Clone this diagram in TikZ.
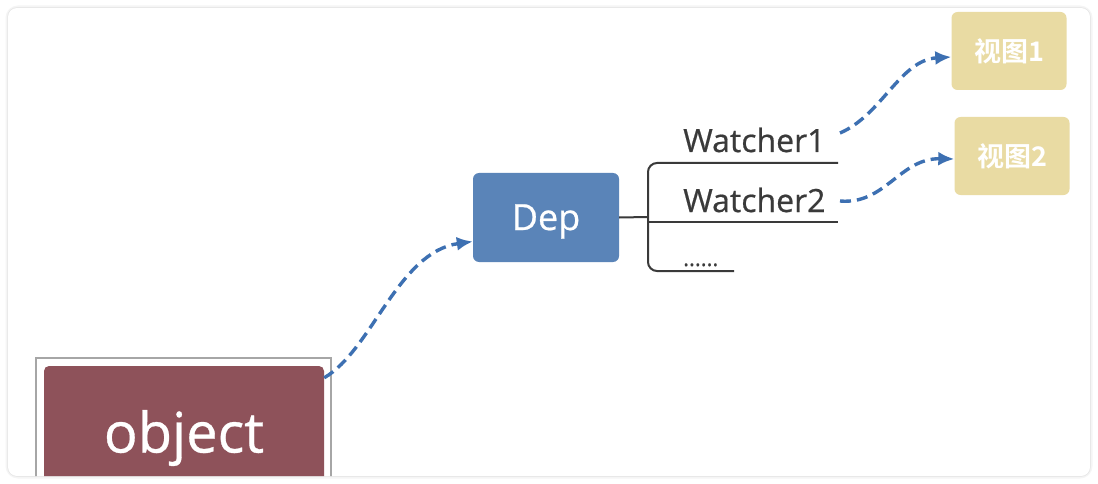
\documentclass[tikz,border=0pt]{standalone}
\usepackage{fontspec}
\setmainfont{Open Sans}
\newfontfamily\medfont{Open Sans}[FakeBold=0.6]
\newfontfamily\cjk{Noto Sans CJK SC}[BoldFont={* Bold}]
\usetikzlibrary{arrows.meta}
\definecolor{objred}{HTML}{8E525A}
\definecolor{depblue}{HTML}{5A84B8}
\definecolor{viewtan}{HTML}{E9DBA3}
\definecolor{flowblue}{HTML}{3D70B2}
\definecolor{inktext}{HTML}{3A3A3A}
\tikzset{
  box/.style={rounded corners=6pt, inner sep=0pt, text=white},
  viewbox/.style={box, fill=viewtan, minimum width=115pt, minimum height=78pt, font=\cjk\bfseries\fontsize{27}{27}\selectfont},
  flow/.style={draw=flowblue, line width=3.4pt, dash pattern=on 11pt off 6pt, -{Latex[length=16pt,width=14pt]}},
  bracket/.style={draw=inktext, line width=2pt},
  wlabel/.style={anchor=base west, inner sep=0pt, text=inktext, font=\medfont\fontsize{32}{32}\selectfont},
}
\begin{document}
\begin{tikzpicture}[x=1pt,y=-1pt]
\useasboundingbox (0,0) rectangle (1098,484);
\fill[white] (0,0) rectangle (1098,484);
% card shadow and card
\draw[black!4, line width=5pt, rounded corners=10pt] (8,8) rectangle (1090,476);
\draw[black!10, line width=1.5pt, rounded corners=9pt] (8,8) rectangle (1090,476);
\fill[white, rounded corners=9pt] (8,8) rectangle (1090,476);
% object box, clipped by the card
\begin{scope}
  \clip[rounded corners=9pt] (8,8) rectangle (1090,476);
  \draw[black!35, line width=2.2pt, fill=white] (36,358) rectangle (331,520);
  \node[box, fill=objred, rounded corners=5pt, minimum width=280pt, minimum height=144pt,
        font=\medfont\fontsize{56}{56}\selectfont] (obj) at (184,438) {object};
\end{scope}
% Dep
\node[box, fill=depblue, minimum width=146pt, minimum height=89pt,
      font=\medfont\fontsize{36}{36}\selectfont] (dep) at (546,217.5) {\raisebox{-4pt}[\height][\depth]{Dep}};
% views
\node[viewbox] (v1) at (1009,51) {视图1};
\node[viewbox] (v2) at (1012,156) {视图2};
% bracket
\coordinate (bj) at (648,217);
\coordinate (w1r) at (838,163);
\coordinate (w2l) at (648,222);
\coordinate (w2r) at (838,222);
\coordinate (w3r) at (734,271);
\draw[bracket] (dep.east) -- (bj);
\draw[bracket, rounded corners=9pt] (w1r) -- (648,163) -- (648,271) -- (w3r);
\draw[bracket] (w2l) -- (w2r);
\node[wlabel] (w1) at (683,152) {Watcher1};
\node[wlabel] (w2) at (683,212) {Watcher2};
\node[wlabel, font=\medfont\fontsize{22}{22}\selectfont] (w3) at (683,266) {......};
% flows
\coordinate (s1) at ([yshift=-12pt]obj.north east);
\coordinate (s2) at (840,133);
\coordinate (s3) at (840,201);
\draw[flow] (s1) .. controls (372,350) and (398,252) .. ([yshift=-24pt]dep.west);
\draw[flow] (s2) .. controls (882,115) and (900,60) .. ([yshift=-6pt]v1.west);
\draw[flow] (s3) .. controls (885,205) and (900,158) .. ([yshift=-3pt]v2.west);
\end{tikzpicture}
\end{document}
